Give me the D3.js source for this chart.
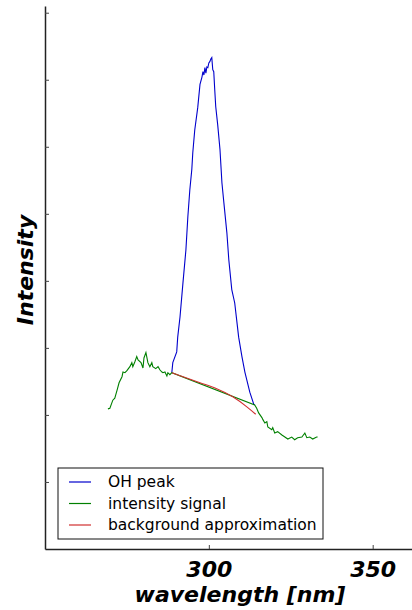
<!DOCTYPE html>
<html>
<head>
<meta charset="utf-8">
<script src="https://cdn.jsdelivr.net/npm/d3@7"></script>
<style>
  body { margin: 0; background: #fff; }
  text { font-family: "DejaVu Sans", sans-serif; }
</style>
</head>
<body>
<div id="chart"></div>
<script>
// wavelength (nm) / intensity (arb. units)
const signalLeftX = [269.2, 269.8, 270.7, 271.3, 272.0, 272.6, 273.5, 273.8, 274.4, 275.0, 275.9, 276.5, 276.8, 277.4, 278.0, 278.4, 279.3, 279.9, 280.2, 280.8, 281.4, 282.0, 282.6, 282.9, 283.8, 284.5, 285.1, 285.7, 286.0, 286.6, 287.2, 287.5, 288.1, 288.7];
const signalLeftY = [2.09, 2.10, 2.22, 2.25, 2.37, 2.48, 2.57, 2.64, 2.63, 2.66, 2.72, 2.78, 2.72, 2.79, 2.87, 2.82, 2.78, 2.70, 2.85, 2.93, 2.78, 2.72, 2.78, 2.72, 2.69, 2.72, 2.67, 2.64, 2.63, 2.64, 2.58, 2.63, 2.60, 2.63];
const signalRightX = [314.0, 314.6, 315.2, 316.2, 316.5, 317.1, 317.7, 318.0, 319.2, 319.5, 320.1, 321.0, 322.3, 323.2, 324.1, 325.3, 326.2, 327.1, 328.4, 329.3, 329.9, 330.8, 331.7, 332.9, 333.2];
const signalRightY = [2.15, 2.10, 2.03, 1.96, 1.93, 1.88, 1.90, 1.82, 1.78, 1.81, 1.73, 1.75, 1.70, 1.67, 1.64, 1.67, 1.63, 1.66, 1.67, 1.73, 1.66, 1.67, 1.64, 1.67, 1.67];

const peakX = [288.7, 289.0, 290.2, 290.5, 291.2, 292.1, 293.0, 293.6, 294.2, 294.8, 295.1, 295.7, 296.6, 297.3, 297.9, 298.2, 298.5, 298.8, 299.1, 299.4, 299.7, 300.0, 300.3, 300.6, 300.9, 301.2, 301.5, 301.8, 302.1, 302.7, 303.4, 304.0, 304.6, 305.5, 306.1, 307.0, 307.9, 309.1, 310.1, 311.0, 311.6, 312.5, 313.7, 314.0];
const peakY = [2.63, 2.78, 2.94, 3.16, 3.46, 3.97, 4.46, 4.96, 5.36, 5.66, 5.91, 6.25, 6.58, 6.93, 7.04, 7.12, 7.07, 7.18, 7.10, 7.19, 7.18, 7.25, 7.27, 7.31, 7.33, 7.15, 7.12, 6.85, 6.60, 6.33, 5.96, 5.46, 5.16, 4.72, 4.31, 3.87, 3.67, 3.16, 2.87, 2.64, 2.52, 2.34, 2.16, 2.15];

const backgroundX = [288.7, 297.3, 302.4, 307.3, 311.6, 314.3];
const backgroundY = [2.63, 2.48, 2.39, 2.27, 2.12, 2.01];

const xTicks = [300, 350];
const yTicks = [1, 2, 3, 4, 5, 6, 7, 8];
const seriesNames = ["OH peak", "intensity signal", "background approximation"];
const colorRange = ["#0000cc", "#008000", "#d03030"];

let width = 412,
    height = 610,
    margin = ({ top: 6, right: 0, bottom: 61, left: 45 });

const svg = d3.select("#chart")
  .append("svg")
  .attr("width", width)
  .attr("height", height);

let x = d3.scaleLinear()
  .domain([250, 362])
  .range([margin.left, width - margin.right]);

let y = d3.scaleLinear()
  .domain([0, 8.1])
  .range([height - margin.bottom, margin.top]);

let color = d3.scaleOrdinal().domain(seriesNames).range(colorRange);

let zip = (xs, ys) => xs.map((v, i) => ({ wl: v, value: ys[i] }));

// green signal: left part, straight chord under the peak, right part
let signal = zip(signalLeftX, signalLeftY).concat(zip(signalRightX, signalRightY));
let peak = zip(peakX, peakY);
let background = zip(backgroundX, backgroundY);

let line = d3.line()
  .x(d => x(d.wl))
  .y(d => y(d.value));

svg.append("path")
  .datum(peak)
  .attr("fill", "none")
  .attr("stroke", color("OH peak"))
  .attr("stroke-width", 1.1)
  .attr("d", line);

svg.append("path")
  .datum(signal)
  .attr("fill", "none")
  .attr("stroke", color("intensity signal"))
  .attr("stroke-width", 1.1)
  .attr("d", line);

svg.append("path")
  .datum(background)
  .attr("fill", "none")
  .attr("stroke", color("background approximation"))
  .attr("stroke-width", 1.1)
  .attr("d", line.curve(d3.curveNatural));

// axes, ticks pointing inwards
let xAxis = svg.append("g")
  .attr("transform", `translate(0,${height - margin.bottom})`)
  .call(d3.axisBottom(x).tickValues(xTicks).tickSize(-4).tickPadding(9).tickSizeOuter(0));

let yAxis = svg.append("g")
  .attr("transform", `translate(${margin.left},0)`)
  .call(d3.axisLeft(y).tickValues(yTicks).tickSize(-4).tickFormat("").tickSizeOuter(0));

svg.selectAll(".domain").attr("stroke", "#222").attr("stroke-width", 1.5);
svg.selectAll(".tick line").attr("stroke", "#444");

xAxis.selectAll("text")
  .attr("fill", "#000")
  .style("font-size", "22px")
  .style("font-weight", "bold")
  .style("font-style", "italic")
  .attr("dy", "0.85em");

svg.append("text")
  .attr("x", 240)
  .attr("y", 602)
  .attr("text-anchor", "middle")
  .style("font-size", "22px")
  .style("font-weight", "bold")
  .style("font-style", "italic")
  .text("wavelength [nm]");

svg.append("text")
  .attr("transform", `translate(33,${270}) rotate(-90)`)
  .attr("text-anchor", "middle")
  .style("font-size", "22px")
  .style("font-weight", "bold")
  .style("font-style", "italic")
  .text("Intensity");

// legend
let legend = svg.append("g").attr("transform", "translate(58,468)");

legend.append("rect")
  .attr("width", 265)
  .attr("height", 71)
  .attr("fill", "#fff")
  .attr("stroke", "#111")
  .attr("stroke-width", 1);

seriesNames.forEach((name, i) => {
  let row = legend.append("g").attr("transform", `translate(0,${14 + i * 21.5})`);
  row.append("line")
    .attr("x1", 11).attr("x2", 33)
    .attr("stroke", color(name))
    .attr("stroke-width", 1.2);
  row.append("text")
    .attr("x", 50)
    .attr("dy", "0.35em")
    .style("font-size", "15.5px")
    .text(name);
});
</script>
</body>
</html>
